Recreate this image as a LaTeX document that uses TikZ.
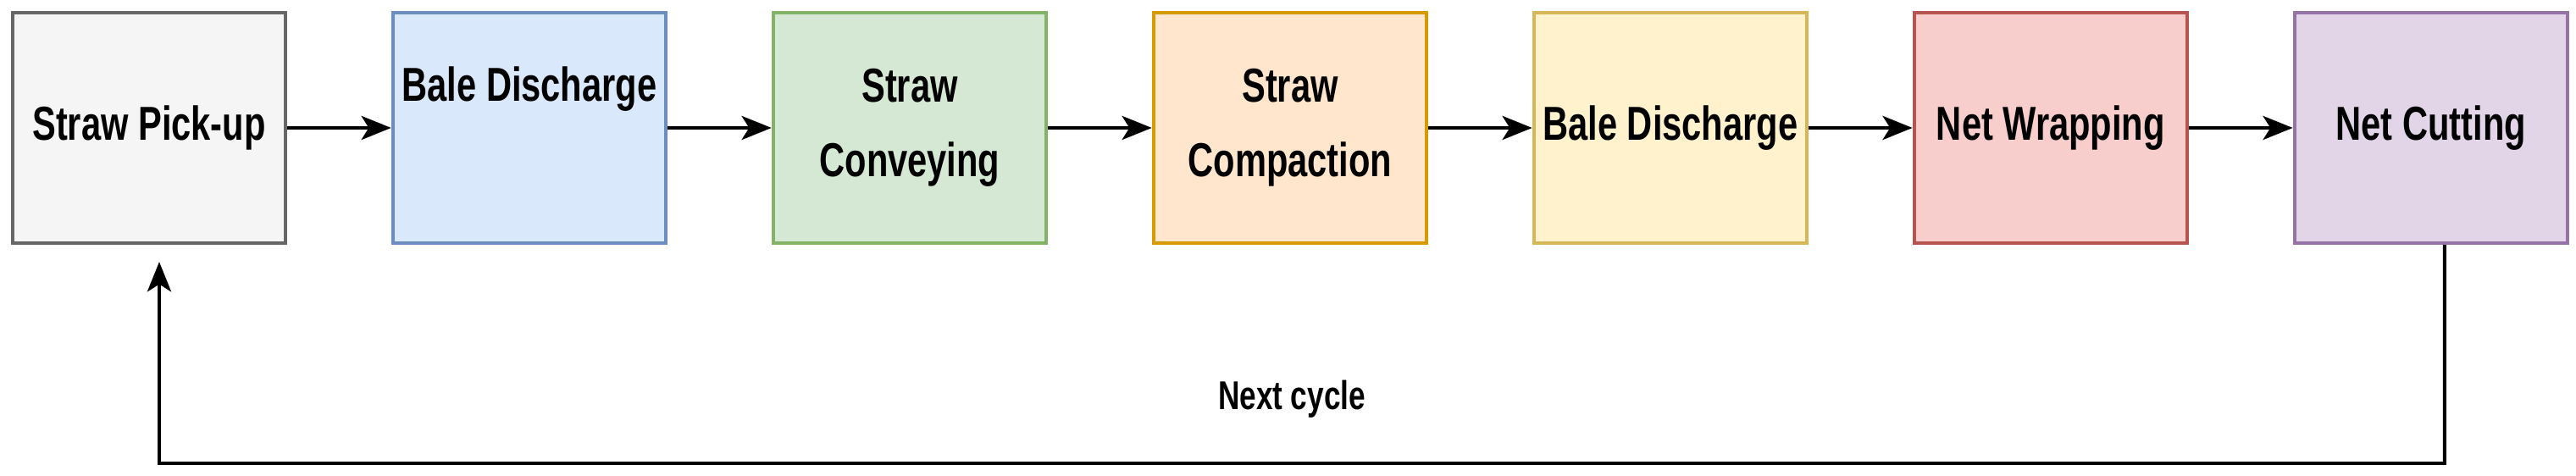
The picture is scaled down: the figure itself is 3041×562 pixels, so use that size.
\documentclass[tikz,border=0pt]{standalone}
\usepackage{fontspec}
\setmainfont{Liberation Sans}[FakeStretch=0.74]
\usetikzlibrary{arrows.meta,positioning}
\definecolor{grayfill}{HTML}{F5F5F5}\definecolor{graydraw}{HTML}{666666}
\definecolor{bluefill}{HTML}{DAE8FC}\definecolor{bluedraw}{HTML}{6C8EBF}
\definecolor{greenfill}{HTML}{D5E8D4}\definecolor{greendraw}{HTML}{82B366}
\definecolor{orangefill}{HTML}{FFE6CC}\definecolor{orangedraw}{HTML}{D79B00}
\definecolor{yellowfill}{HTML}{FFF2CC}\definecolor{yellowdraw}{HTML}{D6B656}
\definecolor{redfill}{HTML}{F8CECC}\definecolor{reddraw}{HTML}{B85450}
\definecolor{purplefill}{HTML}{E1D5E7}\definecolor{purpledraw}{HTML}{9673A6}
\begin{document}
\begin{tikzpicture}[x=0.01cm,y=0.01cm,
  step/.style 2 args={draw=#2, fill=#1, line width=1.2pt, minimum width=3.22cm,
    minimum height=2.72cm, align=center, inner sep=0pt,
    font=\fontsize{16}{25}\selectfont\bfseries},
  flow/.style={line width=1.1pt, -{Stealth[length=10pt,width=8pt,inset=2.5pt]}}]
\useasboundingbox (0,0) rectangle (3041,-562);

\node[step={grayfill}{graydraw}] (pick) at (176,-151) {Straw Pick-up};
\node[step={bluefill}{bluedraw}, right=1.225cm of pick] (dis1) {};
\node[font=\fontsize{16}{25}\selectfont\bfseries] at (dis1.north) [yshift=-0.92cm] {Bale Discharge};
\node[step={greenfill}{greendraw}, right=1.225cm of dis1] (conv) {Straw\\Conveying};
\node[step={orangefill}{orangedraw}, right=1.225cm of conv] (comp) {Straw\\Compaction};
\node[step={yellowfill}{yellowdraw}, right=1.225cm of comp] (dis2) {Bale Discharge};
\node[step={redfill}{reddraw}, right=1.225cm of dis2] (wrap) {Net Wrapping};
\node[step={purplefill}{purpledraw}, right=1.225cm of wrap] (cut) {Net Cutting};

\foreach \a/\b in {pick/dis1,dis1/conv,conv/comp,comp/dis2,dis2/wrap,wrap/cut}
  \draw[flow] (\a) -- (\b);

% back to the start
\coordinate (low) at ([xshift=0.16cm]cut.south |- 0,-547);
\draw[flow] ([xshift=0.16cm]cut.south) -- (low) -- (low -| 188,0) -- ([xshift=0.12cm,yshift=-0.2cm]pick.south);
\node[font=\fontsize{13.5}{16}\selectfont\bfseries] (next) at (1525,-471) {Next cycle};
\end{tikzpicture}
\end{document}
